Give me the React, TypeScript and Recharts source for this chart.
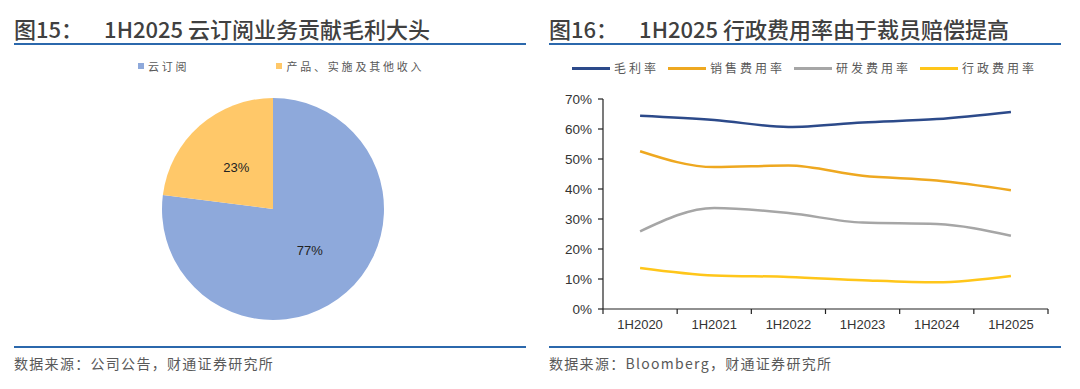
import React from "react";
import { Line, LineChart, Pie, PieChart, Cell, XAxis, YAxis } from "recharts";

// 图15 饼图
const pieNames = ["云订阅", "产品、实施及其他收入"];
const pieValues = [77, 23];
const pieColors = ["#8EA9DB", "#FFC869"];

// 图16 折线图
const periods = ["1H2020", "1H2021", "1H2022", "1H2023", "1H2024", "1H2025"];
const grossMargin = [64.4, 63.0, 60.7, 62.2, 63.3, 65.7];
const salesRatio = [52.6, 47.3, 47.8, 44.4, 42.8, 39.6];
const rdRatio = [25.9, 33.7, 32.0, 28.8, 28.3, 24.4];
const adminRatio = [13.7, 11.2, 10.7, 9.6, 8.9, 11.0];
const yTicks = [0, 10, 20, 30, 40, 50, 60, 70];

const seriesMeta = [
  { key: "gross", name: "毛利率", color: "#2C4A8A" },
  { key: "sales", name: "销售费用率", color: "#EEA820" },
  { key: "rd", name: "研发费用率", color: "#A6A6A6" },
  { key: "admin", name: "行政费用率", color: "#FFC61A" },
];

const pieData = pieNames.map((name, i) => ({ name, value: pieValues[i] }));
const lineData = periods.map((p, i) => ({
  pos: i + 0.5,
  period: p,
  gross: grossMargin[i],
  sales: salesRatio[i],
  rd: rdRatio[i],
  admin: adminRatio[i],
}));
// 刻度：整数位置画分隔短线，半格位置写类别名
const xTicks = periods.flatMap((_, i) => [i, i + 0.5]).concat(periods.length);

const CJK = '"Noto Sans CJK SC", "Noto Sans", sans-serif';
const LATIN = '"Liberation Sans", Arial, sans-serif';
const RAD = Math.PI / 180;

function PieLabel(props: any) {
  const { cx, cy, midAngle, outerRadius, value } = props;
  const r = outerRadius * 0.5;
  const x = cx + r * Math.cos(-midAngle * RAD);
  const y = cy + r * Math.sin(-midAngle * RAD);
  return (
    <text x={x} y={y} textAnchor="middle" dominantBaseline="central" fill="#222" fontSize={13} fontFamily={LATIN}>
      {value}%
    </text>
  );
}

function PeriodTick(props: any) {
  const { x, y, payload } = props;
  const v = payload.value as number;
  if (Number.isInteger(v)) {
    return <line x1={x} y1={y} x2={x} y2={y + 5} stroke="#222" strokeWidth={1.2} />;
  }
  return (
    <text x={x} y={y + 20} textAnchor="middle" fill="#333" fontSize={13} fontFamily={LATIN}>
      {periods[Math.floor(v)]}
    </text>
  );
}

function Title({ left, no, text }: { left: number; no: string; text: string }) {
  return (
    <>
      <div
        style={{
          position: "absolute",
          left,
          top: 15,
          fontFamily: CJK,
          fontSize: 22,
          lineHeight: "26px",
          fontWeight: 500,
          color: "#404040",
          whiteSpace: "nowrap",
        }}
      >
        {no}
        <span style={{ marginLeft: 21 }}>{text}</span>
      </div>
      <div style={{ position: "absolute", left, top: 43, width: 512, height: 2, background: "#2B68AC" }} />
      <div style={{ position: "absolute", left, top: 346, width: 512, height: 2, background: "#2B68AC" }} />
    </>
  );
}

function Source({ left, text }: { left: number; text: string }) {
  return (
    <div
      style={{
        position: "absolute",
        left,
        top: 354,
        fontFamily: CJK,
        fontSize: 14,
        lineHeight: "18px",
        letterSpacing: 1.3,
        color: "#595959",
        whiteSpace: "nowrap",
      }}
    >
      {text}
    </div>
  );
}

export default function App() {
  return (
    <div style={{ position: "absolute", left: 0, top: 0, width: 1080, height: 389, background: "#fff", overflow: "hidden" }}>
      <Title left={14} no="图15：" text="1H2025 云订阅业务贡献毛利大头" />
      <Title left={549} no="图16：" text="1H2025 行政费用率由于裁员赔偿提高" />

      {/* 饼图图例 */}
      <div style={{ position: "absolute", left: 138, top: 58, display: "flex", alignItems: "center", fontFamily: CJK, fontSize: 11, color: "#595959", letterSpacing: 2.8, whiteSpace: "nowrap" }}>
        {pieNames.map((n, i) => (
          <div key={n} style={{ display: "flex", alignItems: "center", marginRight: i === 0 ? 87 : 0 }}>
            <span style={{ width: 6, height: 6, background: pieColors[i], marginRight: 4, display: "inline-block" }} />
            <span style={{ lineHeight: "16px" }}>{n}</span>
          </div>
        ))}
      </div>

      <div style={{ position: "absolute", left: 0, top: 80 }}>
        <PieChart width={540} height={260} margin={{ top: 0, right: 0, bottom: 0, left: 0 }}>
          <Pie
            data={pieData}
            dataKey="value"
            nameKey="name"
            cx={273}
            cy={129}
            outerRadius={111}
            startAngle={90}
            endAngle={-270}
            stroke="none"
            labelLine={false}
            label={PieLabel}
            isAnimationActive={false}
          >
            {pieData.map((d, i) => (
              <Cell key={d.name} fill={pieColors[i]} />
            ))}
          </Pie>
        </PieChart>
      </div>

      {/* 折线图图例 */}
      <div style={{ position: "absolute", left: 572, top: 60, display: "flex", alignItems: "center", fontFamily: CJK, fontSize: 12, color: "#595959", letterSpacing: 3, whiteSpace: "nowrap" }}>
        {seriesMeta.map((s) => (
          <div key={s.key} style={{ display: "flex", alignItems: "center", marginRight: 9 }}>
            <span style={{ width: 38, height: 3, background: s.color, marginRight: 4, display: "inline-block" }} />
            <span style={{ lineHeight: "16px" }}>{s.name}</span>
          </div>
        ))}
      </div>

      <div style={{ position: "absolute", left: 540, top: 80 }}>
        <LineChart width={520} height={260} data={lineData} margin={{ top: 19, right: 12, left: 10, bottom: 1 }}>
          <XAxis
            dataKey="pos"
            type="number"
            domain={[0, periods.length]}
            ticks={xTicks}
            interval={0}
            tickLine={false}
            tickSize={0}
            tickMargin={0}
            axisLine={{ stroke: "#222", strokeWidth: 1.2 }}
            tick={<PeriodTick />}
            height={30}
          />
          <YAxis
            type="number"
            domain={[0, 70]}
            ticks={yTicks}
            interval={0}
            width={53}
            tickSize={5}
            tickMargin={6}
            tickFormatter={(v: number) => `${v}%`}
            axisLine={{ stroke: "#222", strokeWidth: 1.2 }}
            tickLine={{ stroke: "#222", strokeWidth: 1.2 }}
            tick={{ fill: "#333", fontSize: 13.5, fontFamily: LATIN }}
          />
          {seriesMeta.map((s) => (
            <Line
              key={s.key}
              type="monotone"
              dataKey={s.key}
              name={s.name}
              stroke={s.color}
              strokeWidth={2.5}
              dot={false}
              activeDot={false}
              isAnimationActive={false}
            />
          ))}
        </LineChart>
      </div>

      <Source left={14} text="数据来源：公司公告，财通证券研究所" />
      <Source left={549} text="数据来源：Bloomberg，财通证券研究所" />
    </div>
  );
}
